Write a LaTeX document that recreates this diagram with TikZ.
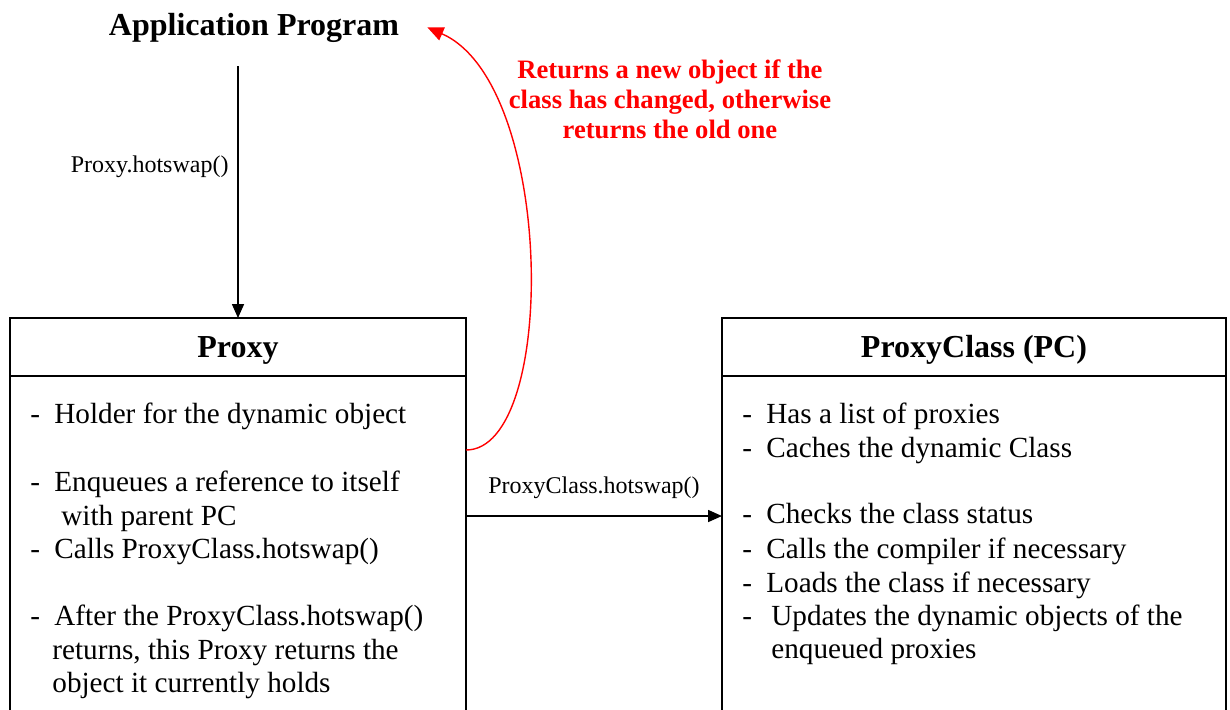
\documentclass[tikz,border=0pt]{standalone}
\usepackage{fontspec}
\setmainfont{Liberation Serif}
\usetikzlibrary{positioning,arrows.meta}
\tikzset{boxhead/.style={draw, line width=1pt, outer sep=0pt, minimum height=29pt, text height=11pt, text depth=1pt, font=\fontsize{16}{19}\selectfont\bfseries}}
\tikzset{boxbody/.style={draw, line width=1pt, outer sep=0pt, minimum height=192pt}}
\tikzset{item/.style={anchor=base west, inner sep=0pt, font=\fontsize{14.6}{17}\selectfont}}
\tikzset{call/.style={font=\fontsize{12}{14}\selectfont}}
\tikzset{arr/.style={draw, line width=0.8pt, -{Triangle[length=7pt,width=6pt]}}}
\tikzset{retarr/.style={arr, red, line width=0.7pt, -{Triangle[length=8pt,width=7pt]}}}
\newcommand{\itemdash}[1][12pt]{\makebox[#1][l]{-}}

\begin{document}
\begin{tikzpicture}[x=0.5pt, y=-0.5pt]
	\useasboundingbox (0,0) rectangle (1230,709);
	\clip (0,0) rectangle (1230,709);
	% the two classes
	\node[boxhead, minimum width=228pt] (proxy) at (238,347) {Proxy};
	\node[boxbody, minimum width=228pt, below=0pt of proxy] (proxybody) {};
	\node[boxhead, minimum width=252pt] (pc) at (974,347) {ProxyClass (PC)};
	\node[boxbody, minimum width=252pt, below=0pt of pc] (pcbody) {};
	\node[font=\fontsize{16}{19}\selectfont\bfseries, anchor=base, inner sep=0pt] (app) at (254,35) {Application Program};
	% Proxy
	\node[item] (p1) at (30,423) {\itemdash Holder for the dynamic object};
	\node[item] (p2) at (30,491) {\itemdash Enqueues a reference to itself};
	\node[item] (p2b) at (61,525) {with parent PC};
	\node[item] (p3) at (30,558) {\itemdash Calls ProxyClass.hotswap()};
	\node[item] (p4) at (30,625) {\itemdash After the ProxyClass.hotswap()};
	\node[item] (p4b) at (52,659) {returns, this Proxy returns the};
	\node[item] (p4c) at (52,692) {object it currently holds};
	% ProxyClass
	\node[item] (c1) at (742,423) {\itemdash Has a list of proxies};
	\node[item] (c2) at (742,457) {\itemdash Caches the dynamic Class};
	\node[item] (c3) at (742,523) {\itemdash Checks the class status};
	\node[item] (c4) at (742,558) {\itemdash Calls the compiler if necessary};
	\node[item] (c5) at (742,592) {\itemdash Loads the class if necessary};
	\node[item] (c6) at (742,625) {\itemdash[14.5pt]Updates the dynamic objects of the};
	\node[item] (c6b) at (771,658) {enqueued proxies};
	% calls
	\draw[arr, shorten <=12pt] (app.south -| proxy.north) --
		node[call, left=1pt, pos=0.45]{Proxy.hotswap()} (proxy.north);
	\draw[arr] ([yshift=26pt]proxybody.east) --
		node[call, above=5pt]{ProxyClass.hotswap()} ([yshift=26pt]pcbody.west);
	\draw[retarr] ([yshift=59pt]proxybody.east) .. controls +(92,0) and +(128,56) .. ([xshift=14pt]app.east);
	\node[font=\fontsize{13.3}{15}\selectfont\bfseries, text=red, align=center] (note) at (670,99)
		{Returns a new object if the\\class has changed, otherwise\\returns the old one};
\end{tikzpicture}
\end{document}
